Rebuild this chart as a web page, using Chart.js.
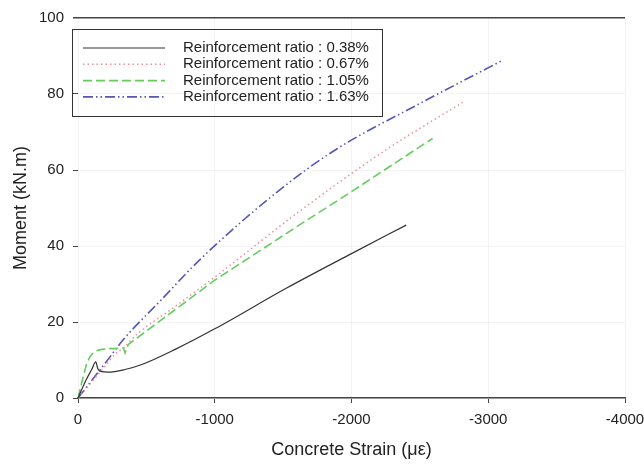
<!DOCTYPE html>
<html lang="en">
<head>
<meta charset="UTF-8">
<title>Moment vs Concrete Strain</title>
<script src="https://cdn.jsdelivr.net/npm/chart.js"></script>
<style>
    body { margin: 0; background: #fff; }
    #wrap { width: 644px; height: 465px; }
</style>
</head>
<body>
<div id="wrap"><canvas id="chart"></canvas></div>
<script>
// series (strain in micro-strain, moment in kN.m)
const labels = ['Reinforcement ratio : 0.38%', 'Reinforcement ratio : 0.67%',
                'Reinforcement ratio : 1.05%', 'Reinforcement ratio : 1.63%'];

const strain038 = [0, -60, -100, -130, -145, -165, -222, -344, -467, -711, -1000, -1529, -2000, -2400];
const moment038 = [0, 4.8, 7.5, 9.5, 7.7, 7.0, 6.8, 7.5, 8.8, 12.8, 18.2, 29.0, 38.0, 45.5];

const strain067 = [0, -150, -280, -340, -429, -700, -1000, -1626, -2261, -2813];
const moment067 = [0, 6.3, 11.8, 13.4, 16.7, 23.8, 31.8, 49.3, 65.5, 77.8];

const strain105 = [0, -27, -64, -90, -112, -140, -173, -220, -271, -332, -344, -368, -600, -1000, -1626, -2000, -2359, -2593];
const moment105 = [0, 4.0, 9.2, 11.0, 11.9, 12.5, 12.8, 13.0, 13.0, 13.2, 11.9, 14.1, 20.3, 31.0, 45.7, 54.3, 62.8, 68.3];

const strain163 = [0, -200, -332, -600, -894, -1480, -1895, -2500, -3106];
const moment163 = [0, 9.2, 15.4, 25.5, 36.5, 54.9, 65.6, 77.5, 88.9];

const xTicks = [0, -1000, -2000, -3000, -4000];
const yTicks = [0, 20, 40, 60, 80, 100];

function pts(xs, ys) {
    return xs.map((x, i) => ({ x: x, y: ys[i] }));
}

const FONT = 'Arial, "Liberation Sans", sans-serif';

// legend drawn in a box inside the plot, like the original figure
const boxLegend = {
    id: 'boxLegend',
    afterDraw(chart) {
        const ctx = chart.ctx;
        ctx.save();
        ctx.strokeStyle = '#333';
        ctx.lineWidth = 1;
        ctx.strokeRect(72.5, 29.5, 310, 87);
        chart.data.datasets.forEach((ds, i) => {
            const y = 48 + i * 16.3;
            ctx.beginPath();
            ctx.strokeStyle = ds.borderColor;
            ctx.lineWidth = ds.borderWidth;
            ctx.setLineDash(ds.borderDash || []);
            ctx.moveTo(83, y);
            ctx.lineTo(165, y);
            ctx.stroke();
            ctx.setLineDash([]);
            ctx.fillStyle = '#222';
            ctx.font = '15px ' + FONT;
            ctx.textBaseline = 'middle';
            ctx.fillText(ds.label, 183, y);
        });
        ctx.restore();
    }
};

new Chart(document.getElementById('chart'), {
    type: 'scatter',
    data: {
        datasets: [
            { label: labels[0], data: pts(strain038, moment038), borderColor: '#333', borderWidth: 1.2, borderDash: [],
              cubicInterpolationMode: 'monotone' },
            { label: labels[1], data: pts(strain067, moment067), borderColor: '#e8909c', borderWidth: 1.5, borderDash: [1.5, 3],
              cubicInterpolationMode: 'monotone' },
            { label: labels[2], data: pts(strain105, moment105), borderColor: '#66cc5c', borderWidth: 1.6, borderDash: [9, 4],
              tension: 0 },
            { label: labels[3], data: pts(strain163, moment163), borderColor: '#5656b4', borderWidth: 1.6, borderDash: [10, 3, 1.5, 3, 1.5, 3],
              cubicInterpolationMode: 'monotone' }
        ].map(d => Object.assign(d, { showLine: true, pointRadius: 0, fill: false }))
    },
    options: {
        responsive: true,
        maintainAspectRatio: false,
        animation: false,
        layout: { padding: { top: 18, right: 19, left: 0, bottom: 0 } },
        plugins: { legend: { display: false }, tooltip: { enabled: false } },
        scales: {
            x: {
                type: 'linear',
                reverse: true,
                min: -4000,
                max: 0,
                afterBuildTicks: s => { s.ticks = xTicks.map(v => ({ value: v })); },
                afterFit: s => { s.height = 67; s.paddingLeft = 0; s.paddingRight = 0; },
                border: { display: true, color: '#444', width: 1.5 },
                grid: { color: '#f3f3f3', tickColor: '#444', tickLength: 5 },
                ticks: { color: '#222', font: { family: FONT, size: 15 }, padding: 8, maxRotation: 0,
                         callback: v => String(v) },
                title: { display: true, text: 'Concrete Strain (\u03bc\u03b5)', color: '#222',
                         font: { family: FONT, size: 18 }, padding: { top: 7 } }
            },
            y: {
                min: 0,
                max: 100,
                afterBuildTicks: s => { s.ticks = yTicks.map(v => ({ value: v })); },
                afterFit: s => { s.width = 78; s.paddingTop = 0; s.paddingBottom = 0; },
                border: { display: false },
                grid: {
                    color: c => c.tick && c.tick.value === 100 ? '#444' : '#f3f3f3',
                    lineWidth: c => c.tick && c.tick.value === 100 ? 1.5 : 1,
                    tickColor: '#444',
                    tickLength: 5
                },
                ticks: { color: '#222', font: { family: FONT, size: 15 }, padding: 9 },
                title: { display: true, text: 'Moment (kN.m)', color: '#222',
                         font: { family: FONT, size: 18 }, padding: { top: 10, bottom: 0 } }
            }
        }
    },
    plugins: [boxLegend]
});
</script>
</body>
</html>
